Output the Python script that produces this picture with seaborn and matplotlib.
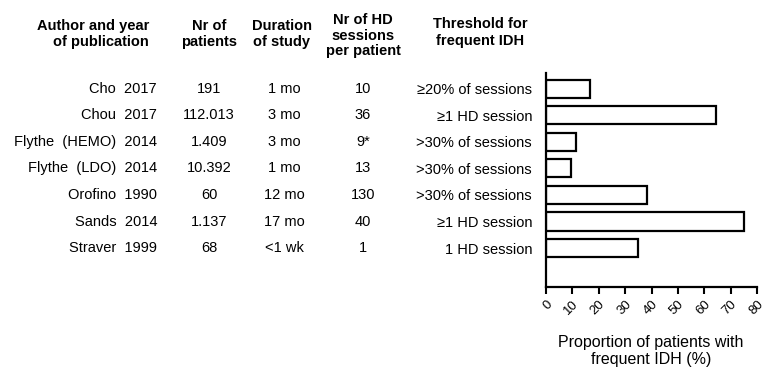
import matplotlib
matplotlib.use("Agg")
import matplotlib.pyplot as plt
import seaborn as sns
import pandas as pd
from matplotlib.transforms import blended_transform_factory

# ---- data ----
authors = ["Cho  2017", "Chou  2017", "Flythe  (HEMO)  2014", "Flythe  (LDO)  2014",
           "Orofino  1990", "Sands  2014", "Straver  1999"]
n_patients = ["191", "112.013", "1.409", "10.392", "60", "1.137", "68"]
duration = ["1 mo", "3 mo", "3 mo", "1 mo", "12 mo", "17 mo", "<1 wk"]
hd_sessions = ["10", "36", "9*", "13", "130", "40", "1"]
thresholds = ["≥20% of sessions", "≥1 HD session", ">30% of sessions", ">30% of sessions",
              ">30% of sessions", "≥1 HD session", "1 HD session"]
proportion = [16.5, 64.5, 11.2, 9.6, 38.4, 75.0, 35.0]
x_ticks = [0, 10, 20, 30, 40, 50, 60, 70, 80]
headers = ["Author and year\nof publication", "Nr of\npatients", "Duration\nof study",
           "Nr of HD\nsessions\nper patient", "Threshold for\nfrequent IDH"]
x_label = "Proportion of patients with\nfrequent IDH (%)"

sns.set_theme(style="ticks")
plt.rcParams["font.family"] = ["Liberation Sans", "DejaVu Sans"]
plt.rcParams["text.color"] = "black"
plt.rcParams["axes.labelcolor"] = "black"
plt.rcParams["xtick.color"] = "black"
plt.rcParams["ytick.color"] = "black"

df = pd.DataFrame({"study": authors, "prop": proportion})

fig = plt.figure(figsize=(7.64, 3.68), dpi=100)
ax = fig.add_axes([546 / 764, 0.2201, 211 / 764, 0.5815])

sns.barplot(data=df, x="prop", y="study", order=authors, orient="h", ax=ax,
            color="white", edgecolor="black", linewidth=1.6, width=0.68,
            saturation=1)

ax.set_xlim(0, 80)
ax.set_ylim(7.47, -0.6)
ax.set_xticks(x_ticks)
ax.set_xticklabels([str(t) for t in x_ticks], rotation=45, ha="right",
                   rotation_mode="anchor", fontsize=9.5)
ax.set_yticks(range(len(authors)))
ax.set_yticklabels(thresholds, fontsize=10.5)
ax.tick_params(axis="y", length=0, pad=10)
ax.tick_params(axis="x", length=5, width=1.5, direction="out", pad=3)
ax.set_xlabel("")
ax.set_ylabel("")
for s in ["top", "right"]:
    ax.spines[s].set_visible(False)
for s in ["left", "bottom"]:
    ax.spines[s].set_linewidth(1.6)
    ax.spines[s].set_color("black")

# table columns
trans = blended_transform_factory(fig.transFigure, ax.transData)
col_x = [0.2055, 0.2736, 0.3717, 0.4751]
for i in range(len(authors)):
    ax.text(col_x[0], i, authors[i], transform=trans, ha="right", va="center", fontsize=10.5)
    ax.text(col_x[1], i, n_patients[i], transform=trans, ha="center", va="center", fontsize=10.5)
    ax.text(col_x[2], i, duration[i], transform=trans, ha="center", va="center", fontsize=10.5)
    ax.text(col_x[3], i, hd_sessions[i], transform=trans, ha="center", va="center", fontsize=10.5)

# headers
hy = 1 - 34 / 368
fig.text(0.195, hy, headers[0], ha="right", va="center", ma="right",
         fontsize=10.5, fontweight="bold", linespacing=1.2)
fig.text(col_x[1], hy, headers[1], ha="center", va="center", ma="center",
         fontsize=10.5, fontweight="bold", linespacing=1.2)
fig.text(0.369, hy, headers[2], ha="center", va="center", ma="center",
         fontsize=10.5, fontweight="bold", linespacing=1.2)
fig.text(col_x[3], hy - 0.005, headers[3], ha="center", va="center", ma="center",
         fontsize=10.5, fontweight="bold", linespacing=1.15)
fig.text(480 / 764, hy + 0.005, headers[4], ha="center", va="center", ma="center",
         fontsize=10.5, fontweight="bold", linespacing=1.25)

fig.text(651 / 764, 1 - 351 / 368, x_label, ha="center", va="center", ma="center",
         fontsize=11.5, linespacing=1.1)

fig.savefig("out.png", dpi=100, facecolor="white")
